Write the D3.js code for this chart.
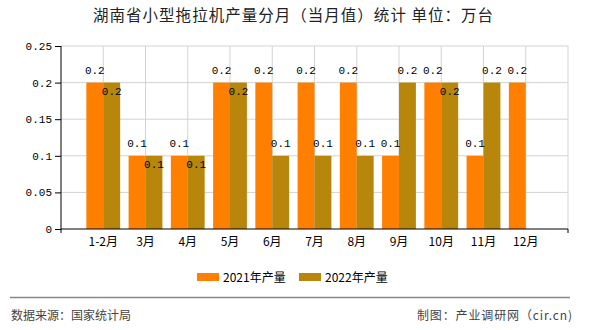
<!DOCTYPE html>
<html><head><meta charset="utf-8">
<script src="https://cdn.jsdelivr.net/npm/d3@7"></script>
<style>body{margin:0;background:#fff}svg{display:block}</style>
</head><body><svg id="c" width="590" height="330"></svg>
<script>
const categories = ["1-2月","3月","4月","5月","6月","7月","8月","9月","10月","11月","12月"];
const values2021 = [0.2,0.1,0.1,0.2,0.2,0.2,0.2,0.1,0.2,0.1,0.2];
const values2022 = [0.2,0.1,0.1,0.2,0.1,0.1,0.1,0.2,0.2,0.2,null];
const yTicks = [0,0.05,0.1,0.15,0.2,0.25];
const seriesNames = ["2021年产量","2022年产量"];
const colors = ["#FF8000","#B8860B"];

const svg = d3.select("#c");
const L=61,R=568,T=46,B=229;
const x = d3.scaleLinear().domain([0,categories.length+1]).range([L,R]);
const y = d3.scaleLinear().domain([0,0.25]).range([B,T]);
const step = x(1)-x(0), bw = step*0.4;
const monoFont = "'Liberation Mono','DejaVu Sans Mono',monospace";
const cjk = "'Noto Sans CJK SC','Noto Sans',sans-serif";

// title
svg.append("text").attr("x",93).attr("y",21)
  .attr("font-family",cjk).attr("font-size",15.5).attr("fill","#222")
  .attr("textLength",400).attr("lengthAdjust","spacing")
  .text("湖南省小型拖拉机产量分月（当月值）统计 单位：万台");

// grid
const g = svg.append("g");
yTicks.forEach(t=>{ if(t>0) g.append("line").attr("x1",L).attr("x2",R).attr("y1",y(t)).attr("y2",y(t)).attr("stroke","#d3d3d3"); });
d3.range(1,categories.length+2).forEach(i=>{
  g.append("line").attr("x1",x(i)).attr("x2",x(i)).attr("y1",T).attr("y2",B).attr("stroke","#d3d3d3");
});

// bars
const data = categories.map((c,i)=>({c,i,a:values2021[i],b:values2022[i]}));
svg.append("g").selectAll("rect").data(data.filter(d=>d.a!=null)).join("rect")
  .attr("x",d=>x(d.i+1)-bw).attr("width",bw).attr("y",d=>y(d.a)).attr("height",d=>B-y(d.a)).attr("fill",colors[0]);
svg.append("g").selectAll("rect").data(data.filter(d=>d.b!=null)).join("rect")
  .attr("x",d=>x(d.i+1)).attr("width",bw).attr("y",d=>y(d.b)).attr("height",d=>B-y(d.b)).attr("fill",colors[1]);

// value labels
const lab = svg.append("g").attr("font-family",monoFont).attr("font-size",11).attr("fill","#000").attr("text-anchor","middle");
data.forEach(d=>{
  if(d.a!=null) lab.append("text").attr("x",x(d.i+1)-bw/2).attr("y",y(d.a)-9).text(d.a);
  if(d.b!=null){
    const inside = d.a===d.b;
    lab.append("text").attr("x",x(d.i+1)+bw/2).attr("y",inside? y(d.b)+12 : y(d.b)-9).text(d.b);
  }
});

// axes
const yAxis = d3.axisLeft(y).tickValues(yTicks).tickSize(6).tickPadding(3).tickFormat(d=>d===0?"0":String(d));
const ya = svg.append("g").attr("transform",`translate(${L},0)`).call(yAxis);
ya.select(".domain").attr("stroke","#000").attr("d",`M0,${T}V${B}`);
ya.selectAll("text").attr("font-family",monoFont).attr("font-size",11).attr("fill","#000");
svg.append("line").attr("x1",L).attr("x2",R).attr("y1",B).attr("y2",B).attr("stroke","#000");
[L,R].forEach(px=>svg.append("line").attr("x1",px).attr("x2",px).attr("y1",B).attr("y2",B+4).attr("stroke","#000"));
const xl = svg.append("g").attr("font-family",cjk).attr("font-size",12).attr("fill","#000").attr("text-anchor","middle");
categories.forEach((c,i)=>xl.append("text").attr("x",x(i+1)).attr("y",246).text(c));

// legend
const leg = svg.append("g").attr("font-family",cjk).attr("font-size",12).attr("fill","#000");
const legX=[197,299];
seriesNames.forEach((n,i)=>{
  leg.append("rect").attr("x",legX[i]).attr("y",273).attr("width",22).attr("height",8).attr("fill",colors[i]);
  leg.append("text").attr("x",legX[i]+26).attr("y",281.5).text(n);
});

// footer
svg.append("line").attr("x1",10).attr("x2",570).attr("y1",297.5).attr("y2",297.5).attr("stroke","#888").attr("stroke-width",1.5);
svg.append("text").attr("x",11).attr("y",320).attr("font-family",cjk).attr("font-size",12).attr("fill","#444").text("数据来源：国家统计局");
svg.append("text").attr("x",417).attr("y",320).attr("font-family",cjk).attr("font-size",12).attr("fill","#444")
  .attr("textLength",155).attr("lengthAdjust","spacing").text("制图：产业调研网（cir.cn)");
</script></body></html>
